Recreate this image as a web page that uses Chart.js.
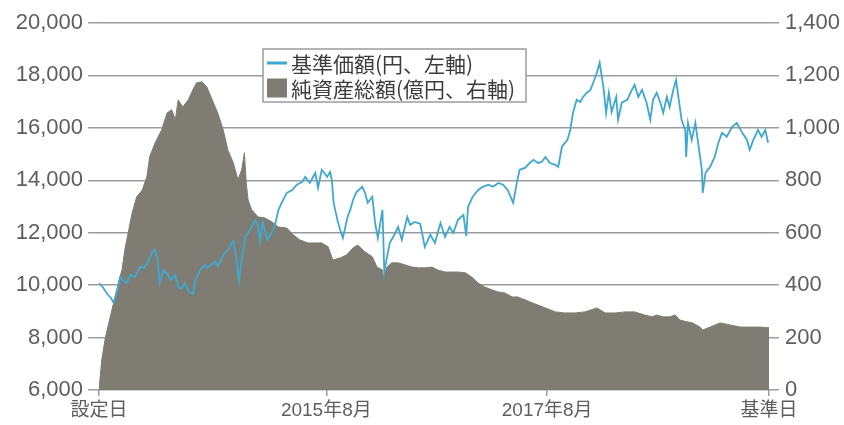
<!DOCTYPE html>
<html lang="ja">
<head>
<meta charset="utf-8">
<title>基準価額・純資産総額の推移</title>
<script src="https://cdn.jsdelivr.net/npm/chart.js@4.4.1/dist/chart.umd.min.js"></script>
<style>
  html, body { margin: 0; padding: 0; background: #fff; }
  #wrap { position: relative; width: 844px; height: 425px; }
</style>
</head>
<body>
<div id="wrap"><canvas id="chart"></canvas></div>
<script>
// 基準価額 (円) : 設定日からの経過月数と値
const navMonths = [
  0.0, 0.4, 0.9, 1.3, 1.6, 2.0, 2.3, 2.7, 3.0, 3.4, 3.9, 4.5, 4.9, 5.3, 5.8, 6.1, 6.4, 6.6, 7.0, 7.4,
  7.8, 8.3, 8.6, 9.0, 9.3, 9.8, 10.2, 10.5, 11.0, 11.5, 11.8, 12.3, 12.6, 12.9, 13.5, 14.0, 14.6, 14.9, 15.2, 15.5,
  15.9, 16.2, 16.6, 17.0, 17.3, 17.5, 17.8, 18.3, 18.8, 19.1, 19.5, 19.9, 20.4, 21.0, 21.5, 22.1, 22.4, 22.9, 23.5, 23.8,
  24.2, 24.8, 25.1, 25.3, 25.5, 25.9, 26.2, 26.5, 27.0, 27.3, 27.6, 28.0, 28.6, 28.9, 29.2, 29.7, 30.0, 30.3, 30.8, 31.0,
  31.3, 31.6, 32.2, 32.5, 32.9, 33.5, 33.8, 34.3, 34.9, 35.4, 36.0, 36.5, 37.1, 37.6, 38.1, 38.5, 39.0, 39.6, 39.9, 40.1,
  40.6, 41.2, 41.7, 42.3, 42.8, 43.4, 43.9, 44.4, 45.0, 45.4, 45.7, 46.3, 46.8, 47.2, 47.7, 48.1, 48.5, 49.0, 49.6, 49.9,
  50.3, 50.9, 51.2, 51.5, 51.9, 52.3, 52.6, 53.0, 53.4, 53.7, 54.1, 54.4, 54.8, 55.1, 55.4, 55.7, 56.2, 56.4, 56.8, 57.4,
  57.9, 58.2, 58.6, 59.0, 59.5, 59.9, 60.2, 60.6, 61.0, 61.3, 61.7, 62.0, 62.4, 62.7, 63.0, 63.3, 63.7, 63.8, 64.0, 64.4,
  64.8, 65.1, 65.5, 65.6, 65.9, 66.4, 66.9, 67.3, 67.7, 68.2, 68.8, 69.3, 69.9, 70.4, 70.7, 71.1, 71.6, 72.0, 72.4, 72.7
];
const navValues = [
  10080, 9930, 9660, 9510, 9320, 9820, 10310, 10160, 10080, 10390, 10310, 10700, 10660, 10890, 11270, 11340, 10890, 10080, 10580, 10430,
  10200, 10390, 9930, 9860, 10080, 9740, 9660, 10200, 10580, 10770, 10660, 10810, 10890, 10700, 11150, 11340, 11690, 11110, 10160, 10960,
  11840, 11990, 12220, 12490, 12220, 11650, 12410, 11730, 12030, 12260, 12870, 13180, 13520, 13630, 13830, 13940, 14130, 13900, 14280, 13710,
  14400, 14130, 14320, 14020, 13140, 12490, 12110, 11800, 12600, 12870, 13250, 13560, 13750, 13520, 13140, 13370, 12370, 11800, 12870, 10500,
  11080, 11610, 11990, 12220, 11730, 12600, 12300, 12410, 12340, 11460, 11920, 11610, 12370, 11840, 12220, 11990, 12490, 12680, 11880, 12990,
  13370, 13630, 13750, 13830, 13750, 13900, 13830, 13630, 13140, 13900, 14400, 14470, 14660, 14780, 14660, 14700, 14890, 14660, 14590, 14510,
  15280, 15540, 15920, 16570, 17070, 16990, 17180, 17340, 17450, 17720, 18100, 18480, 17570, 16570, 17340, 16610, 17180, 16310, 16960, 17070,
  17450, 17640, 17180, 17450, 16960, 16310, 17070, 17340, 16960, 16570, 17180, 16800, 17450, 17830, 17070, 16310, 15920, 14890, 16190, 15540,
  16190, 15430, 14400, 13520, 14280, 14510, 14890, 15430, 15810, 15660, 16040, 16190, 15810, 15540, 15160, 15540, 15920, 15660, 15920, 15430
];

// 純資産総額 (億円)
const aumMonths = [
  0.0, 0.3, 0.7, 1.4, 2.1, 2.5, 2.8, 3.6, 4.1, 4.7, 5.2, 5.5, 6.1, 6.8, 7.4, 7.9, 8.3, 8.6, 9.1, 9.7,
  10.2, 10.6, 11.2, 11.7, 12.3, 12.9, 13.5, 14.0, 14.6, 15.1, 15.5, 15.8, 16.0, 16.2, 16.6, 17.3, 18.0, 18.8, 19.5, 20.4,
  21.1, 21.8, 22.7, 23.5, 24.2, 24.9, 25.4, 26.2, 26.9, 27.6, 28.1, 28.9, 29.7, 30.2, 30.8, 30.9, 31.3, 31.8, 32.5, 33.3,
  34.0, 34.7, 35.4, 36.2, 36.8, 37.6, 38.4, 39.0, 39.8, 40.5, 41.2, 41.9, 42.7, 43.4, 44.1, 44.9, 45.5, 46.3, 47.1, 47.7,
  48.5, 49.6, 50.6, 51.7, 52.8, 54.1, 55.0, 56.1, 57.2, 58.2, 59.3, 60.1, 60.6, 61.3, 62.0, 62.6, 63.1, 63.9, 64.5, 65.3,
  65.6, 66.4, 67.5, 68.6, 69.7, 70.7, 71.8, 72.8
];
const aumValues = [
  0, 115, 202, 305, 408, 458, 534, 676, 737, 763, 813, 889, 943, 992, 1057, 1069, 1031, 1107, 1080, 1107,
  1145, 1172, 1176, 1157, 1107, 1057, 992, 916, 866, 802, 840, 905, 790, 725, 687, 660, 657, 641, 622, 618,
  592, 573, 561, 561, 561, 546, 496, 504, 515, 542, 553, 527, 508, 469, 458, 431, 469, 485, 485, 477,
  469, 466, 466, 469, 458, 450, 450, 450, 447, 431, 408, 393, 382, 374, 370, 355, 355, 344, 332, 324,
  313, 298, 294, 294, 298, 313, 294, 294, 298, 298, 286, 279, 286, 279, 279, 286, 267, 260, 256, 240,
  229, 240, 256, 248, 240, 240, 240, 237
];

const xTickMonths = [0, 24.7, 48.7, 72.8];
const xTickLabels = ['設定日', '2015年8月', '2017年8月', '基準日'];
const leftTicks = [6000, 8000, 10000, 12000, 14000, 16000, 18000, 20000];
const rightTicks = [0, 200, 400, 600, 800, 1000, 1200, 1400];
const seriesLabels = ['基準価額(円、左軸)', '純資産総額(億円、右軸)'];

const LINE_BLUE = '#3ea8d1';
const AREA_GRAY = '#7f7d73';
const GRID_GRAY = '#9c9c9c';
const TEXT_GRAY = '#5e5e5e';

Chart.defaults.font.family = '"Liberation Sans", "Noto Sans CJK JP", sans-serif';
Chart.defaults.color = TEXT_GRAY;

// 凡例 (白地の枠付き) を自前で描く
const legendBox = {
  id: 'legendBox',
  afterDraw(chart, args, opts) {
    const ctx = chart.ctx;
    ctx.save();
    ctx.fillStyle = '#ffffff';
    ctx.fillRect(opts.x, opts.y, opts.width, opts.height);
    ctx.strokeStyle = GRID_GRAY;
    ctx.lineWidth = 1.5;
    ctx.strokeRect(opts.x, opts.y, opts.width, opts.height);
    ctx.font = opts.font;
    ctx.textBaseline = 'middle';

    chart.data.datasets.forEach((ds, i) => {
      const cy = opts.y + opts.firstRow + i * opts.rowGap;
      const sx = opts.x + 4;
      if (ds.fill) {
        ctx.fillStyle = ds.backgroundColor;
        ctx.fillRect(sx, cy - 9.5, 20, 19);
      } else {
        ctx.strokeStyle = ds.borderColor;
        ctx.lineWidth = 3;
        ctx.beginPath();
        ctx.moveTo(sx, cy);
        ctx.lineTo(sx + 20, cy);
        ctx.stroke();
      }
      ctx.fillStyle = '#3c3c3c';
      ctx.fillText(ds.label, sx + 24, cy + 1);
    });
    ctx.restore();
  }
};

const ctx = document.getElementById('chart').getContext('2d');
new Chart(ctx, {
  type: 'line',
  data: {
    datasets: [
      {
        label: seriesLabels[0],
        data: navMonths.map((m, i) => ({ x: m, y: navValues[i] })),
        yAxisID: 'y',
        borderColor: LINE_BLUE,
        borderWidth: 1.8,
        pointRadius: 0,
        fill: false,
        order: 0
      },
      {
        label: seriesLabels[1],
        data: aumMonths.map((m, i) => ({ x: m, y: aumValues[i] })),
        yAxisID: 'y1',
        borderColor: AREA_GRAY,
        backgroundColor: AREA_GRAY,
        borderWidth: 1,
        pointRadius: 0,
        fill: 'origin',
        order: 1
      }
    ]
  },
  options: {
    responsive: true,
    maintainAspectRatio: false,
    animation: false,
    layout: { padding: { top: 23, left: 0, right: 0, bottom: 0 } },
    plugins: {
      legend: { display: false },
      tooltip: { enabled: false },
      legendBox: {
        x: 263, y: 49, width: 263, height: 53,
        firstRow: 14, rowGap: 25,
        font: '21px "Noto Sans CJK JP", sans-serif'
      }
    },
    scales: {
      x: {
        type: 'linear',
        min: xTickMonths[0],
        max: xTickMonths[xTickMonths.length - 1],
        afterBuildTicks: axis => { axis.ticks = xTickMonths.map(v => ({ value: v })); },
        afterFit: axis => { axis.height = 35; },
        ticks: {
          autoSkip: false,
          maxRotation: 0,
          padding: 3,
          font: { size: 19 },
          callback: (v, i) => xTickLabels[i]
        },
        grid: { drawOnChartArea: false, color: GRID_GRAY, lineWidth: 1.5, tickLength: 6 },
        border: { display: false }
      },
      y: {
        position: 'left',
        min: leftTicks[0],
        max: leftTicks[leftTicks.length - 1],
        afterBuildTicks: axis => { axis.ticks = leftTicks.map(v => ({ value: v })); },
        afterFit: axis => { axis.width = 99; },
        ticks: {
          padding: 5,
          font: { size: 22 },
          callback: v => v.toLocaleString('en-US')
        },
        grid: { color: GRID_GRAY, lineWidth: 1.5, tickLength: 11 },
        border: { display: false }
      },
      y1: {
        position: 'right',
        min: rightTicks[0],
        max: rightTicks[rightTicks.length - 1],
        afterBuildTicks: axis => { axis.ticks = rightTicks.map(v => ({ value: v })); },
        afterFit: axis => { axis.width = 75; },
        ticks: {
          padding: 6,
          font: { size: 22 },
          callback: v => v.toLocaleString('en-US')
        },
        grid: { drawOnChartArea: false, color: GRID_GRAY, lineWidth: 1.5, tickLength: 10 },
        border: { display: false }
      }
    }
  },
  plugins: [legendBox]
});
</script>
</body>
</html>
